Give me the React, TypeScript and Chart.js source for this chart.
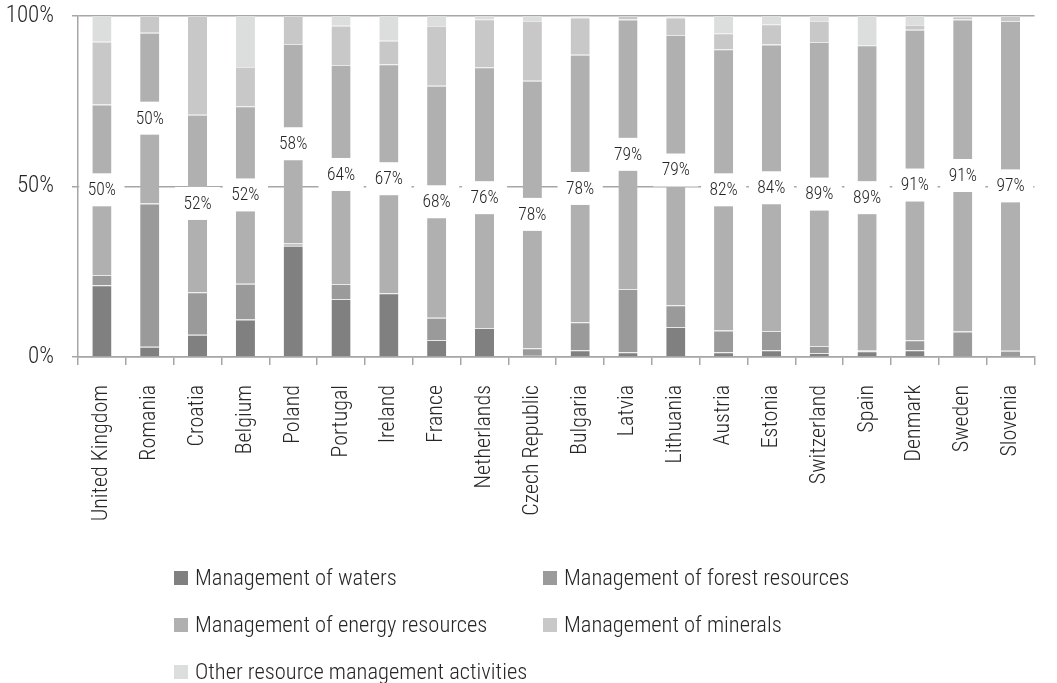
import React, { useEffect, useRef } from "react";
import { Chart, registerables } from "chart.js";

Chart.register(...registerables);

const categories = [
  "United Kingdom", "Romania", "Croatia", "Belgium", "Poland", "Portugal", "Ireland", "France",
  "Netherlands", "Czech Republic", "Bulgaria", "Latvia", "Lithuania", "Austria", "Estonia",
  "Switzerland", "Spain", "Denmark", "Sweden", "Slovenia",
];

const waters = [21, 3, 6.5, 11, 32.6, 17, 18.7, 5, 8.5, 0.6, 2, 1.4, 8.8, 1.4, 2, 1.2, 1.7, 2, 0, 0];
const forest = [3, 42, 12.5, 10.5, 0.7, 4.4, 0, 6.5, 0, 2, 8.2, 18.5, 6.4, 6.4, 5.6, 2, 0.3, 2.9, 7.5, 1.8];
const energy = [50, 50, 52, 52, 58.4, 64.2, 67.1, 68, 76.4, 78.4, 78.4, 79, 79.2, 82.4, 84, 89.1, 89.4, 91, 91.4, 96.7];
const minerals = [18.4, 5, 29, 11.5, 8.3, 11.5, 6.9, 17.5, 14.1, 17.5, 10.9, 1.1, 5.1, 4.7, 5.9, 6.2, 0, 1.4, 0.9, 1.5];
const other = [7.6, 0, 0, 15, 0, 2.9, 7.3, 3, 1, 1.5, 0.5, 0, 0.5, 5.1, 2.5, 1.5, 8.6, 2.7, 0.2, 0];

const seriesNames = [
  "Management of waters",
  "Management of forest resources",
  "Management of energy resources",
  "Management of minerals",
  "Other resource management activities",
];
const seriesColors = ["#808080", "#9a9a9a", "#b0b0b0", "#c8c8c8", "#dcdedd"];
const yTicks = [0, 50, 100];

const FONT = "'Roboto Condensed', Roboto, sans-serif";
const TEXT = "#262626";
const AXIS = "#a6a6a6";
const SHIFT = 16; // canvas starts above the viewport
const CANVAS_H = 683 + SHIFT;

const labelPlugin = {
  id: "energyLabels",
  afterDatasetsDraw(chart: any) {
    const ctx = chart.ctx;
    const meta = chart.getDatasetMeta(2);
    const data = chart.data.datasets[2].data as number[];
    ctx.save();
    ctx.font = `300 17.5px ${FONT}`;
    ctx.textAlign = "center";
    ctx.textBaseline = "middle";
    meta.data.forEach((el: any, i: number) => {
      const p = el.getProps(["x", "y", "base"], true);
      const cy = (p.y + p.base) / 2;
      const txt = Math.round(data[i]) + "%";
      const w = ctx.measureText(txt).width + 17;
      ctx.fillStyle = "#ffffff";
      ctx.fillRect(p.x - w / 2, cy - 16.5, w, 33);
      ctx.fillStyle = TEXT;
      ctx.fillText(txt, p.x, cy + 1);
    });
    ctx.restore();
  },
};

const legendPlugin = {
  id: "gridLegend",
  afterDraw(chart: any) {
    const ctx = chart.ctx;
    const colX = [174, 543];
    const rowY = [578 + SHIFT, 625 + SHIFT, 672 + SHIFT];
    ctx.save();
    ctx.font = `300 22.5px ${FONT}`;
    ctx.textBaseline = "middle";
    ctx.textAlign = "left";
    chart.data.datasets.forEach((ds: any, i: number) => {
      const x = colX[i % 2];
      const y = rowY[Math.floor(i / 2)];
      ctx.fillStyle = ds.backgroundColor;
      ctx.fillRect(x, y - 7, 14, 14);
      ctx.fillStyle = TEXT;
      ctx.fillText(ds.label, x + 21, y + 1);
    });
    ctx.restore();
  },
};

export default function App() {
  const ref = useRef<HTMLCanvasElement | null>(null);

  useEffect(() => {
    document.body.style.margin = "0";
    document.body.style.overflow = "hidden";
    if (!ref.current) return;
    const all = [waters, forest, energy, minerals, other];
    const chart = new Chart(ref.current, {
      type: "bar",
      data: {
        labels: categories,
        datasets: all.map((d, i) => ({
          label: seriesNames[i],
          data: d,
          backgroundColor: seriesColors[i],
          borderColor: "#e8e8e8",
          borderWidth: { top: 1, left: 0, right: 0, bottom: 0 },
          borderSkipped: false,
          categoryPercentage: 1,
          barPercentage: 0.4,
        })),
      },
      options: {
        animation: false,
        responsive: true,
        maintainAspectRatio: false,
        layout: { autoPadding: false, padding: { top: 16, left: 0, right: 1, bottom: 140 } },
        plugins: { legend: { display: false }, tooltip: { enabled: false } },
        scales: {
          x: {
            stacked: true,
            grid: {
              offset: true,
              drawOnChartArea: false,
              drawTicks: true,
              tickLength: 8,
              color: AXIS,
              lineWidth: 1.5,
            },
            border: { color: AXIS, width: 1.5 },
            ticks: {
              autoSkip: false,
              maxRotation: 90,
              minRotation: 90,
              padding: 20,
              color: TEXT,
              font: { family: FONT, size: 22, weight: 300 as any },
            },
            afterFit(scale: any) {
              scale.height = CANVAS_H - 140 - (357 + SHIFT);
            },
          },
          y: {
            stacked: true,
            min: 0,
            max: 100,
            afterBuildTicks(scale: any) {
              scale.ticks = yTicks.map((v) => ({ value: v }));
            },
            grid: { color: AXIS, lineWidth: 1.5, tickLength: 6, drawTicks: true },
            border: { color: AXIS, width: 1.5 },
            ticks: {
              padding: 18,
              color: TEXT,
              font: { family: FONT, size: 23, weight: 300 as any },
              callback: (v: any) => v + "%",
            },
            afterFit(scale: any) {
              scale.width = 78;
            },
          },
        },
      },
      plugins: [labelPlugin, legendPlugin],
    });
    return () => chart.destroy();
  }, []);

  return (
    <div style={{ width: 1057, height: 683, position: "relative", overflow: "hidden" }}>
      <div style={{ position: "absolute", left: 0, top: -SHIFT, width: 1057, height: CANVAS_H }}>
        <canvas ref={ref} />
      </div>
    </div>
  );
}
